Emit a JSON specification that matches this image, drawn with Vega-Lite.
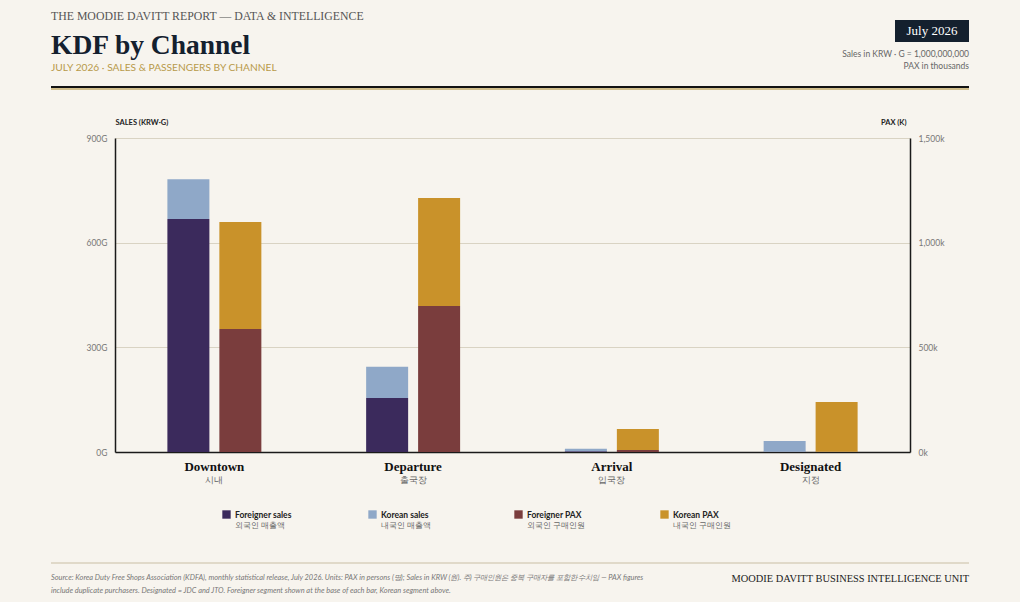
{
  "$schema": "https://vega.github.io/schema/vega-lite/v6.json",
  "autosize": {"type": "none"},
  "width": 795,
  "height": 314,
  "padding": {"left": 115, "top": 138, "right": 110, "bottom": 150},
  "background": "#f7f4ee",
  "config": {
    "view": {"stroke": null},
    "font": "Lato",
    "axis": {"labelFont": "Lato", "titleFont": "Lato"}
  },
  "data": {
    "values": [
      {"channel": "Downtown", "ko": "시내", "metric": "sales", "series": "Foreigner sales", "ord": 1, "value": 668},
      {"channel": "Downtown", "ko": "시내", "metric": "sales", "series": "Korean sales", "ord": 2, "value": 114},
      {"channel": "Downtown", "ko": "시내", "metric": "pax", "series": "Foreigner PAX", "ord": 1, "value": 588},
      {"channel": "Downtown", "ko": "시내", "metric": "pax", "series": "Korean PAX", "ord": 2, "value": 511},
      {"channel": "Departure", "ko": "출국장", "metric": "sales", "series": "Foreigner sales", "ord": 1, "value": 155},
      {"channel": "Departure", "ko": "출국장", "metric": "sales", "series": "Korean sales", "ord": 2, "value": 89},
      {"channel": "Departure", "ko": "출국장", "metric": "pax", "series": "Foreigner PAX", "ord": 1, "value": 697},
      {"channel": "Departure", "ko": "출국장", "metric": "pax", "series": "Korean PAX", "ord": 2, "value": 516},
      {"channel": "Arrival", "ko": "입국장", "metric": "sales", "series": "Foreigner sales", "ord": 1, "value": 2},
      {"channel": "Arrival", "ko": "입국장", "metric": "sales", "series": "Korean sales", "ord": 2, "value": 7},
      {"channel": "Arrival", "ko": "입국장", "metric": "pax", "series": "Foreigner PAX", "ord": 1, "value": 10},
      {"channel": "Arrival", "ko": "입국장", "metric": "pax", "series": "Korean PAX", "ord": 2, "value": 100},
      {"channel": "Designated", "ko": "지정", "metric": "sales", "series": "Foreigner sales", "ord": 1, "value": 0.5},
      {"channel": "Designated", "ko": "지정", "metric": "sales", "series": "Korean sales", "ord": 2, "value": 31},
      {"channel": "Designated", "ko": "지정", "metric": "pax", "series": "Foreigner PAX", "ord": 1, "value": 1},
      {"channel": "Designated", "ko": "지정", "metric": "pax", "series": "Korean PAX", "ord": 2, "value": 238}
    ]
  },
  "encoding": {
    "x": {
      "field": "channel", "type": "nominal",
      "sort": ["Downtown", "Departure", "Arrival", "Designated"],
      "scale": {"paddingInner": 0, "paddingOuter": 0},
      "axis": {
        "title": null, "labelAngle": 0, "ticks": false, "domainColor": "#1a1a1a", "domainWidth": 1.5,
        "labelFont": "Liberation Serif", "labelFontSize": 13, "labelFontWeight": "bold",
        "labelColor": "#111", "labelPadding": 8
      }
    }
  },
  "layer": [
    {
      "transform": [{"filter": "datum.metric == 'sales'"}],
      "mark": {"type": "bar", "width": 42},
      "encoding": {
        "xOffset": {"field": "metric", "type": "nominal", "sort": ["sales", "pax"], "scale": {"domain": ["sales", "pax"], "paddingInner": 0.176, "paddingOuter": 1.039}},
        "y": {
          "field": "value", "type": "quantitative", "stack": "zero",
          "scale": {"domain": [0, 900]},
          "axis": {
            "orient": "left", "values": [0, 300, 600, 900], "labelExpr": "datum.value + 'G'",
            "title": "SALES (KRW·G)", "titleAngle": 0, "titleX": 0, "titleY": -12, "titleAlign": "left",
            "titleFontSize": 7.5, "titleFontWeight": "bold", "titleColor": "#222",
            "labelFontSize": 8.5, "labelColor": "#777", "ticks": false, "labelPadding": 8,
            "domainColor": "#1a1a1a", "domainWidth": 1.5, "gridColor": "#d9d3c3", "grid": true
          }
        },
        "color": {
          "field": "series", "type": "nominal",
          "scale": {
            "domain": ["Foreigner sales", "Korean sales", "Foreigner PAX", "Korean PAX"],
            "range": ["#3b2a5c", "#8fa8c8", "#7a3d3d", "#c9922a"]
          },
          "legend": {
            "orient": "none", "legendX": 107, "legendY": 372, "direction": "horizontal", "columns": 4,
            "gridAlign": "all", "columnPadding": 76, "title": null, "symbolType": "square", "symbolSize": 70,
            "symbolStrokeWidth": 0, "labelFontSize": 8.5, "labelFontWeight": "bold", "labelColor": "#222"
          }
        },
        "order": {"field": "ord"}
      }
    },
    {
      "transform": [{"filter": "datum.metric == 'pax'"}],
      "mark": {"type": "bar", "width": 42},
      "encoding": {
        "xOffset": {"field": "metric", "type": "nominal", "sort": ["sales", "pax"], "scale": {"domain": ["sales", "pax"], "paddingInner": 0.176, "paddingOuter": 1.039}},
        "y": {
          "field": "value", "type": "quantitative", "stack": "zero",
          "scale": {"domain": [0, 1500]},
          "axis": {
            "orient": "right", "values": [0, 500, 1000, 1500], "labelExpr": "format(datum.value, ',') + 'k'",
            "title": "PAX (K)", "titleAngle": 0, "titleX": -4, "titleY": -12, "titleAlign": "right",
            "titleFontSize": 7.5, "titleFontWeight": "bold", "titleColor": "#222",
            "labelFontSize": 8.5, "labelColor": "#777", "ticks": false, "labelPadding": 8,
            "domainColor": "#1a1a1a", "domainWidth": 1.5, "grid": false
          }
        },
        "color": {"field": "series", "type": "nominal"},
        "order": {"field": "ord"}
      }
    },
    {
      "transform": [{"filter": "datum.metric == 'sales' && datum.ord == 1"}],
      "mark": {"type": "text", "fontSize": 8.5, "color": "#666", "baseline": "middle"},
      "encoding": {"y": {"value": 342}, "text": {"field": "ko"}}
    },
    {
      "data": {"values": [{"t": "외국인 매출액", "x": 120}, {"t": "내국인 매출액", "x": 266}, {"t": "외국인 구매인원", "x": 412}, {"t": "내국인 구매인원", "x": 558}]},
      "mark": {"type": "text", "align": "left", "baseline": "middle", "fontSize": 8, "color": "#666"},
      "encoding": {"x": {"field": "x", "type": "quantitative", "scale": null}, "y": {"value": 388}, "text": {"field": "t"}}
    },
    {
      "data": {"values": [{"t": "THE MOODIE DAVITT REPORT — DATA & INTELLIGENCE"}]},
      "mark": {"type": "text", "align": "left", "baseline": "middle", "font": "Liberation Serif", "fontSize": 11.8, "color": "#555"},
      "encoding": {"x": {"value": -64}, "y": {"value": -122}, "text": {"field": "t"}}
    },
    {
      "data": {"values": [{"t": "KDF by Channel"}]},
      "mark": {"type": "text", "align": "left", "baseline": "alphabetic", "font": "Liberation Serif", "fontSize": 27.5, "fontWeight": "bold", "color": "#14202e"},
      "encoding": {"x": {"value": -64}, "y": {"value": -84}, "text": {"field": "t"}}
    },
    {
      "data": {"values": [{"t": "JULY 2026 · SALES & PASSENGERS BY CHANNEL"}]},
      "mark": {"type": "text", "align": "left", "baseline": "middle", "fontSize": 10.2, "color": "#b89a4a"},
      "encoding": {"x": {"value": -64}, "y": {"value": -70}, "text": {"field": "t"}}
    },
    {
      "data": {"values": [{"a": 1}]},
      "mark": {"type": "rect", "color": "#14202e"},
      "encoding": {"x": {"value": 780}, "x2": {"value": 854}, "y": {"value": -118}, "y2": {"value": -96}}
    },
    {
      "data": {"values": [{"t": "July 2026"}]},
      "mark": {"type": "text", "align": "center", "baseline": "middle", "font": "Liberation Serif", "fontSize": 13, "color": "#ffffff"},
      "encoding": {"x": {"value": 817}, "y": {"value": -107}, "text": {"field": "t"}}
    },
    {
      "data": {"values": [{"t": "Sales in KRW · G = 1,000,000,000", "y": -84}, {"t": "PAX in thousands", "y": -72}]},
      "mark": {"type": "text", "align": "right", "baseline": "middle", "fontSize": 8.5, "color": "#666"},
      "encoding": {"x": {"value": 854}, "y": {"field": "y", "type": "quantitative", "scale": null}, "text": {"field": "t"}}
    },
    {
      "data": {"values": [{"a": 1}]},
      "mark": {"type": "rect", "color": "#b89a4a", "opacity": 0.6},
      "encoding": {"x": {"value": -64}, "x2": {"value": 854}, "y": {"value": -51}, "y2": {"value": -48}}
    },
    {
      "data": {"values": [{"a": 1}]},
      "mark": {"type": "rule", "color": "#111", "strokeWidth": 2},
      "encoding": {"x": {"value": -64}, "x2": {"value": 854}, "y": {"value": -51}}
    },
    {
      "data": {"values": [{"a": 1}]},
      "mark": {"type": "rule", "color": "#d8d0bc", "strokeWidth": 1.5},
      "encoding": {"x": {"value": -64}, "x2": {"value": 854}, "y": {"value": 425}}
    },
    {
      "data": {"values": [
        {"t": "Source: Korea Duty Free Shops Association (KDFA), monthly statistical release, July 2026. Units: PAX in persons (명); Sales in KRW (원). 주) 구매인원은 중복 구매자를 포함한 수치임 — PAX figures", "y": 440},
        {"t": "include duplicate purchasers. Designated = JDC and JTO. Foreigner segment shown at the base of each bar, Korean segment above.", "y": 453}
      ]},
      "mark": {"type": "text", "align": "left", "baseline": "middle", "fontSize": 7.4, "fontStyle": "italic", "color": "#777"},
      "encoding": {"x": {"value": -64}, "y": {"field": "y", "type": "quantitative", "scale": null}, "text": {"field": "t"}}
    },
    {
      "data": {"values": [{"t": "MOODIE DAVITT BUSINESS INTELLIGENCE UNIT"}]},
      "mark": {"type": "text", "align": "right", "baseline": "middle", "font": "Liberation Serif", "fontSize": 10.4, "color": "#222"},
      "encoding": {"x": {"value": 854}, "y": {"value": 441}, "text": {"field": "t"}}
    }
  ],
  "resolve": {"scale": {"y": "independent"}}
}
